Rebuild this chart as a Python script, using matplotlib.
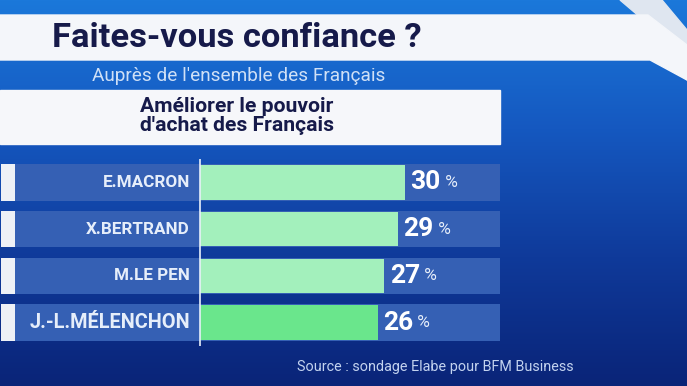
import numpy as np
import matplotlib.pyplot as plt
from matplotlib.colors import LinearSegmentedColormap
from matplotlib.patches import Rectangle, Polygon

# Data
candidates = ['E.MACRON', 'X.BERTRAND', 'M.LE PEN', 'J.-L.MÉLENCHON']
scores = [30, 29, 27, 26]
title = 'Faites-vous confiance ?'
subtitle = "Auprès de l'ensemble des Français"
question = "Améliorer le pouvoir\nd'achat des Français"
source = 'Source : sondage Elabe pour BFM Business'

FONT = ['Roboto', 'DejaVu Sans']

W, H = 687, 386
fig = plt.figure(figsize=(W / 100, H / 100), dpi=100)

# background in pixel coordinates
bg = fig.add_axes([0, 0, 1, 1])
bg.set_xlim(0, W)
bg.set_ylim(H, 0)
bg.axis('off')
cmap = LinearSegmentedColormap.from_list('bfm', ['#1b78da', '#1558c0', '#0f3a9a', '#0a2478'])
grad = np.linspace(0, 1, 256).reshape(-1, 1)
bg.imshow(grad, cmap=cmap, extent=[0, W, H, 0], aspect='auto', zorder=0)

# white title band + slanted stripe
bg.add_patch(Polygon([[620, 0], [662, 0], [687, 30], [687, 80], [662, 60], [640, 17]],
                     closed=True, color='#dfe6f0', zorder=1))
bg.add_patch(Polygon([[0, 15], [648, 15], [687, 45], [687, 80], [650, 60], [0, 60]],
                     closed=True, color='#f4f6fa', zorder=2))
bg.text(52, 38, title, fontsize=24.8, fontweight='bold', family=FONT,
        color='#161a4a', va='center', ha='left', zorder=3)
bg.text(92, 76, subtitle, fontsize=13.7, family=FONT, color='#cfe0f6',
        va='center', ha='left', zorder=3)

# white question box
bg.add_patch(Rectangle((0, 90), 500, 54, color='#f6f7fa', zorder=2))
bg.text(140, 116, question, fontsize=15.2, fontweight='bold', family=FONT,
        color='#161a4a', va='center', ha='left', linespacing=0.95, zorder=3)

bg.text(297, 367, source, fontsize=10.4, family=FONT, color='#c3d3ef',
        va='center', ha='left', zorder=3)

# bar chart axes: x=0 at pixel 200, 6.83 px per point
px_per = 6.83
left_px, right_px = 15, 500
top_px, bot_px = 159, 346
ax = fig.add_axes([left_px / W, 1 - bot_px / H, (right_px - left_px) / W, (bot_px - top_px) / H])
ax.patch.set_alpha(0)
x0 = -(200 - left_px) / px_per
x1 = (right_px - 200) / px_per
ax.set_xlim(x0, x1)
ax.set_ylim(len(scores) - 0.5, -0.5)
ax.axis('off')

y = np.arange(len(scores))
ax.barh(y, [x1 - x0] * len(scores), left=x0, height=0.78, color='#3560b4', zorder=1)
bar_colors = ['#a3f0bc', '#a3f0bc', '#a3f0bc', '#6ae68c']
ax.barh(y, scores, height=0.74, color=bar_colors, zorder=2)
ax.axvline(0, color='#e8f0fa', lw=1.2, zorder=3)

# small white rank boxes at far left
bg_w = 14 / px_per
ax.barh(y, [bg_w] * len(scores), left=x0 - bg_w, height=0.78, color='#eef1f6',
        zorder=2, clip_on=False)

for i, (name, val) in enumerate(zip(candidates, scores)):
    big = i == len(scores) - 1
    ax.text(-1.5, i, name, ha='right', va='center', color='#e6eefa', family=FONT,
            fontweight='bold', fontsize=14.3 if big else 12.3, zorder=4)
    t = ax.text(val + 0.8, i, str(val), ha='left', va='center', color='white',
                family=FONT, fontweight='bold', fontsize=19, zorder=4)
    ax.annotate(' %', xy=(1, 0.5), xycoords=t, va='center', ha='left',
                color='#e6eefa', family=FONT, fontsize=12.5, zorder=4)

fig.savefig('out.png', dpi=100)
